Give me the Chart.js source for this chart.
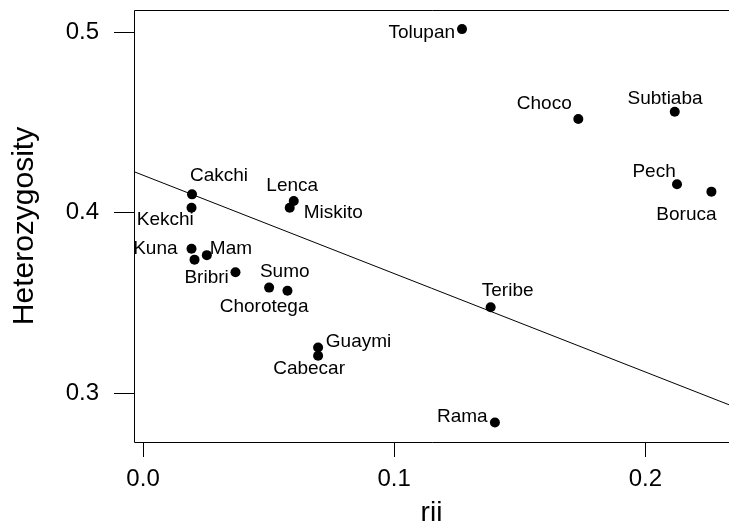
<!DOCTYPE html>
<html>
<head>
<meta charset="utf-8">
<script src="https://cdn.jsdelivr.net/npm/chart.js@4"></script>
<style>
  html, body { margin: 0; padding: 0; background: #ffffff; }
  #wrap { width: 729px; height: 527px; }
</style>
</head>
<body>
<div id="wrap"><canvas id="c" width="729" height="527"></canvas></div>
<script>
// Population genetics: heterozygosity against rii for Central American groups
const populations = ['Tolupan', 'Choco', 'Subtiaba', 'Pech', 'Boruca', 'Cakchi', 'Kekchi',
  'Lenca', 'Miskito', 'Kuna', 'Mam', '', 'Bribri', 'Chorotega', 'Sumo', 'Teribe',
  'Guaymi', 'Cabecar', 'Rama'];
const rii = [0.1270, 0.1733, 0.2117, 0.2126, 0.2263, 0.0195, 0.0193,
  0.0600, 0.0584, 0.0193, 0.0254, 0.0205, 0.0368, 0.0502, 0.0575, 0.1384,
  0.0697, 0.0697, 0.1401];
const heterozygosity = [0.5018, 0.4520, 0.4560, 0.4158, 0.4117, 0.4102, 0.4028,
  0.4065, 0.4028, 0.3800, 0.3765, 0.3740, 0.3670, 0.3585, 0.3568, 0.3476,
  0.3253, 0.3207, 0.2837];
const xTickValues = [0, 0.1, 0.2];
const yTickValues = [0.3, 0.4, 0.5];

// Least-squares fit coefficients (heterozygosity ~ rii)
const fitIntercept = 0.4208;
const fitSlope = -0.5455;

// Axis limits
const xLimits = [-0.0036, 0.2333];
const yLimits = [0.2729, 0.5124];

// Where each name sits relative to its point (pixels, text centre line)
const labelPlacement = {
  Tolupan:   { align: 'right',  dx: -7,   dy: 4 },
  Choco:     { align: 'right',  dx: -6.6, dy: -15 },
  Subtiaba:  { align: 'center', dx: -9.7, dy: -12.7 },
  Pech:      { align: 'right',  dx: -1.3, dy: -12.6 },
  Boruca:    { align: 'center', dx: -25,  dy: 23 },
  Cakchi:    { align: 'left',   dx: -2,   dy: -18.6 },
  Kekchi:    { align: 'right',  dx: 2.3,  dy: 12.3 },
  Lenca:     { align: 'center', dx: -1.5, dy: -15 },
  Miskito:   { align: 'left',   dx: 14,   dy: 5 },
  Kuna:      { align: 'right',  dx: -14,  dy: 0 },
  Mam:       { align: 'left',   dx: 3,    dy: -6 },
  Bribri:    { align: 'right',  dx: -6.7, dy: 5 },
  Chorotega: { align: 'center', dx: -5,   dy: 19 },
  Sumo:      { align: 'center', dx: -2.7, dy: -19 },
  Teribe:    { align: 'center', dx: 17,   dy: -16 },
  Guaymi:    { align: 'left',   dx: 7.7,  dy: -6 },
  Cabecar:   { align: 'center', dx: -9,   dy: 13 },
  Rama:      { align: 'right',  dx: -7.3, dy: -6 }
};

const FONT = '"Liberation Sans", Arial, Helvetica, sans-serif';

const points = rii.map((x, i) => ({ x: x, y: heterozygosity[i] }));
const fitLine = xLimits.map(x => ({ x: x, y: fitIntercept + fitSlope * x }));

// Draws the open box (top, left, bottom) around the plotting region
const boxPlugin = {
  id: 'box',
  beforeDatasetsDraw(chart) {
    const a = chart.chartArea;
    const ctx = chart.ctx;
    const l = Math.round(a.left) + 0.5, t = Math.round(a.top) + 0.5, b = Math.round(a.bottom) + 0.5;
    ctx.save();
    ctx.strokeStyle = '#000';
    ctx.lineWidth = 1;
    ctx.beginPath();
    ctx.moveTo(a.right + 2, t);
    ctx.lineTo(l, t);
    ctx.lineTo(l, b);
    ctx.lineTo(a.right + 2, b);
    ctx.stroke();
    ctx.restore();
  }
};

// Writes the population names next to their points
const namesPlugin = {
  id: 'names',
  afterDatasetsDraw(chart) {
    const meta = chart.getDatasetMeta(1);
    const ctx = chart.ctx;
    ctx.save();
    ctx.font = '19px ' + FONT;
    ctx.fillStyle = '#000';
    ctx.textBaseline = 'middle';
    meta.data.forEach((el, i) => {
      const name = populations[i];
      const p = labelPlacement[name];
      if (!name || !p) return;
      ctx.textAlign = p.align;
      ctx.fillText(name, el.x + p.dx, el.y + p.dy);
    });
    ctx.restore();
  }
};

function fixWidth(w) {
  return function (scale) {
    scale.width = w;
    scale.paddingTop = 0; scale.paddingBottom = 0;
    scale.paddingLeft = 0; scale.paddingRight = 0;
  };
}
function fixHeight(h) {
  return function (scale) {
    scale.height = h;
    scale.paddingTop = 0; scale.paddingBottom = 0;
    scale.paddingLeft = 0; scale.paddingRight = 0;
  };
}

new Chart(document.getElementById('c'), {
  type: 'scatter',
  data: {
    datasets: [
      {
        type: 'line',
        data: fitLine,
        borderColor: '#000',
        borderWidth: 1,
        pointRadius: 0,
        fill: false,
        tension: 0
      },
      {
        data: points,
        backgroundColor: '#000',
        borderColor: '#000',
        borderWidth: 0,
        pointRadius: 5,
        pointHoverRadius: 5
      }
    ]
  },
  options: {
    responsive: false,
    animation: false,
    events: [],
    clip: false,
    layout: { autoPadding: false, padding: { top: 10, left: 0, right: 0, bottom: 0 } },
    plugins: { legend: { display: false }, tooltip: { enabled: false } },
    scales: {
      x: {
        type: 'linear',
        min: xLimits[0],
        max: xLimits[1],
        afterBuildTicks: s => { s.ticks = xTickValues.map(v => ({ value: v })); },
        afterFit: fixHeight(85),
        border: { display: false },
        grid: { drawOnChartArea: false, drawTicks: true, tickLength: 15, color: '#000', tickWidth: 1 },
        ticks: {
          color: '#000',
          padding: 8,
          maxRotation: 0,
          font: { family: FONT, size: 24 },
          callback: v => v.toFixed(1)
        },
        title: {
          display: true,
          text: 'rii',
          color: '#000',
          font: { family: FONT, size: 28, lineHeight: 1 },
          padding: { top: 0, bottom: 0 }
        }
      },
      y: {
        type: 'linear',
        min: yLimits[0],
        max: yLimits[1],
        afterBuildTicks: s => { s.ticks = yTickValues.map(v => ({ value: v })); },
        afterFit: fixWidth(134),
        border: { display: false },
        grid: { drawOnChartArea: false, drawTicks: true, tickLength: 20, color: '#000', tickWidth: 1 },
        ticks: {
          color: '#000',
          padding: 15,
          font: { family: FONT, size: 24 },
          callback: v => v.toFixed(1)
        },
        title: {
          display: true,
          text: 'Heterozygosity',
          color: '#000',
          font: { family: FONT, size: 30, lineHeight: 1 },
          padding: { top: 10, bottom: 0 }
        }
      }
    }
  },
  plugins: [boxPlugin, namesPlugin]
});
</script>
</body>
</html>
